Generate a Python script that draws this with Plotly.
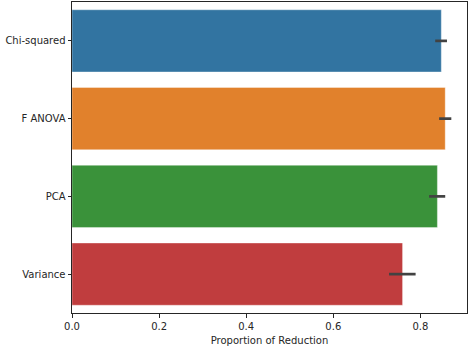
import plotly.graph_objects as go

methods = ["Chi-squared", "F ANOVA", "PCA", "Variance"]
means = [0.848, 0.857, 0.839, 0.759]
ci_low = [0.834, 0.843, 0.820, 0.728]
ci_high = [0.861, 0.871, 0.857, 0.789]
colors = ["#3274a1", "#e1812c", "#3a923a", "#c03d3e"]
x_ticks = [0.0, 0.2, 0.4, 0.6, 0.8]

fig = go.Figure()
fig.add_trace(go.Bar(
    x=means, y=methods, orientation="h", width=0.8,
    marker=dict(color=colors, line=dict(color="rgba(255,255,255,0.6)", width=0.6)),
    error_x=dict(type="data", symmetric=False,
                 array=[h - m for h, m in zip(ci_high, means)],
                 arrayminus=[m - l for l, m in zip(ci_low, means)],
                 color="#424242", thickness=2.7, width=0),
))

font = dict(family="DejaVu Sans, sans-serif", size=10, color="#262626")
fig.update_layout(
    width=470, height=348, margin=dict(l=72, r=3, t=2, b=35),
    paper_bgcolor="white", plot_bgcolor="white", showlegend=False,
    font=font,
    xaxis=dict(range=[0, 0.907], tickvals=x_ticks, tickformat=".1f",
               showline=True, linecolor="#262626", linewidth=1, mirror=True,
               ticks="outside", ticklen=3.5, tickcolor="#262626", showgrid=False,
               zeroline=False,
               title=dict(text="Proportion of Reduction", font=font, standoff=6)),
    yaxis=dict(categoryorder="array", categoryarray=methods, autorange="reversed",
               showline=True, linecolor="#262626", linewidth=1, mirror=True,
               ticks="outside", ticklen=3.5, tickcolor="#262626", showgrid=False,
               range=[3.5, -0.5]),
)
fig.write_html("out.html", config={"displayModeBar": False},
               post_script="document.body.style.margin='0';")
